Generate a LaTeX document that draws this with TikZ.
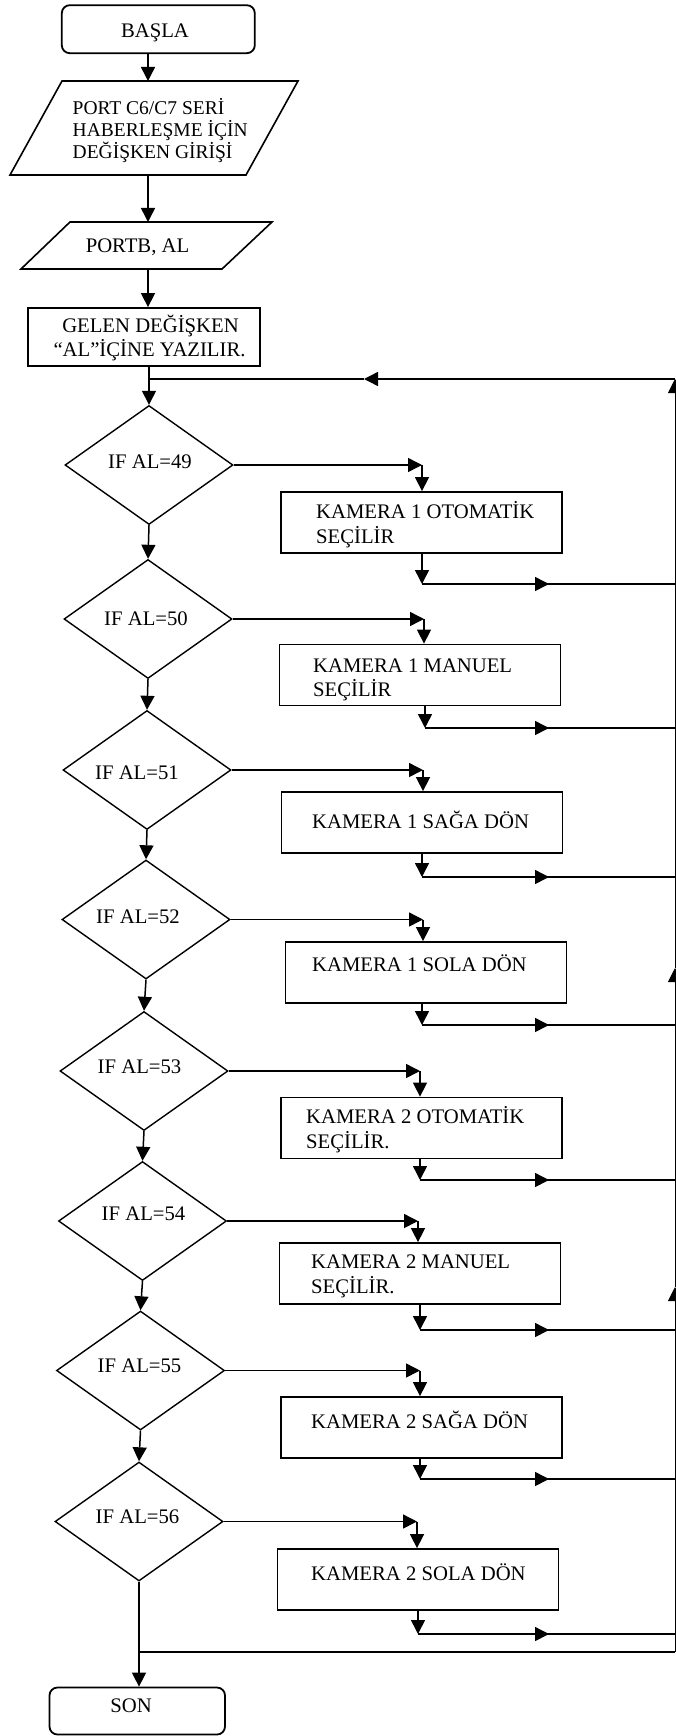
\documentclass[tikz,border=0pt]{standalone}
\usepackage{fontspec}
\setmainfont{Liberation Serif}
\usetikzlibrary{arrows.meta,shapes.geometric}
\tikzset{
  conn/.style={line width=1.5pt},
  arr/.style={conn,-{Triangle[length=14pt,width=14pt]}},
  edgearr/.style={line width=0.9pt,-{Triangle[length=14pt,width=14pt]}},
  termbox/.style={draw,line width=1.8pt,rounded corners=8pt,inner sep=0pt},
  ioshape/.style={draw,line width=1.6pt,line join=miter},
  procbox/.style={draw,line width=1.8pt,inner sep=0pt,minimum width=281pt,minimum height=61pt},
  decision/.style={draw,diamond,line width=1.4pt,inner sep=0pt,minimum width=168pt,minimum height=119pt},
  lbl/.style={inner sep=0pt,font=\fontsize{20.7}{25}\selectfont},
  lblsmall/.style={inner sep=0pt,font=\fontsize{19.5}{22}\selectfont},
}
\begin{document}
\begin{tikzpicture}[x=1pt,y=-1pt]
\useasboundingbox (0,0) rectangle (675,1736);

% start
\node[termbox,minimum width=193pt,minimum height=48pt] (start) at (158.3,29.2) {};
\node[lbl,anchor=base] (tstart) at (155,37.5) {BAŞLA};

% parallelogram 1
\draw[ioshape] (62,81) -- (298,81) -- (246,175) -- (10,175) -- cycle;
\coordinate (p1n) at (148,81);
\coordinate (p1s) at (148,175);
\node[lblsmall,anchor=base west] (tp1a) at (72.5,115) {PORT C6/C7 SERİ};
\node[lblsmall,anchor=base west] (tp1b) at (72.5,137) {HABERLEŞME İÇİN};
\node[lblsmall,anchor=base west] (tp1c) at (72.5,158.5) {DEĞİŞKEN GİRİŞİ};

% parallelogram 2
\draw[ioshape] (70,222) -- (272,222) -- (222,269) -- (21,269) -- cycle;
\coordinate (p2n) at (148,222);
\coordinate (p2s) at (148,269);
\node[lbl,anchor=base] (tp2) at (137.5,252) {PORTB, AL};

% gelen box
\node[draw,line width=1.8pt,inner sep=0pt,minimum width=232pt,minimum height=58pt] (gelen) at (144,337) {};
\node[lbl,anchor=base] (tg1) at (150.5,332) {GELEN DEĞİŞKEN};
\node[lbl,anchor=base] (tg2) at (149.5,356) {“AL”İÇİNE YAZILIR.};

% rows
\foreach \i/\cx/\cy/\ax/\bx/\by/\ox/\oy in {
1/149/465/422/421.5/522.5/422/584,
2/148/619/424/420/675/425/728,
3/147/770/423/422/822.5/422/877,
4/146/919.5/423/426/972.5/422/1025,
5/144/1071/420/421.5/1128/420/1180,
6/142.5/1221/418/420/1273.5/420/1330,
7/140.5/1370.5/420/421.5/1427.5/420/1479,
8/139/1521.5/417/418/1579.5/418/1634}{
  \node[decision] (d\i) at (\cx,\cy) {};
  \node[procbox] (b\i) at (\bx,\by) {};
  \coordinate (t\i) at (\ax,\cy);
  \coordinate (o\i) at (\ox,\oy);
  \coordinate (m\i) at (549,\oy);
  \coordinate (r\i) at (675,\oy);
  \draw[arr] (d\i.east) -- (t\i);
  \draw[arr] (t\i) -- (t\i |- b\i.north);
  \draw[arr] (b\i.south -| o\i) -- (o\i);
  \draw[conn] (o\i) -- (r\i);
  \draw[arr] (o\i) -- (m\i);
}

% diamond texts
\node[lbl,anchor=base] (td1) at (150,468) {IF AL=49};
\node[lbl,anchor=base] (td2) at (146,625) {IF AL=50};
\node[lbl,anchor=base] (td3) at (137,779) {IF AL=51};
\node[lbl,anchor=base] (td4) at (138,923) {IF AL=52};
\node[lbl,anchor=base] (td5) at (139.5,1073) {IF AL=53};
\node[lbl,anchor=base] (td6) at (143.5,1220) {IF AL=54};
\node[lbl,anchor=base] (td7) at (139.5,1372) {IF AL=55};
\node[lbl,anchor=base] (td8) at (137.5,1523) {IF AL=56};

% box texts
\node[lbl,anchor=base west] (tb1a) at (316,518) {KAMERA 1 OTOMATİK};
\node[lbl,anchor=base west] (tb1b) at (316,543) {SEÇİLİR};
\node[lbl,anchor=base west] (tb2a) at (313,672) {KAMERA 1 MANUEL};
\node[lbl,anchor=base west] (tb2b) at (313,696) {SEÇİLİR};
\node[lbl,anchor=base west] (tb3) at (312,828) {KAMERA 1 SAĞA DÖN};
\node[lbl,anchor=base west] (tb4) at (312,971) {KAMERA 1 SOLA DÖN};
\node[lbl,anchor=base west] (tb5a) at (306,1123) {KAMERA 2 OTOMATİK};
\node[lbl,anchor=base west] (tb5b) at (306,1148) {SEÇİLİR.};
\node[lbl,anchor=base west] (tb6a) at (311,1268) {KAMERA 2 MANUEL};
\node[lbl,anchor=base west] (tb6b) at (311,1293) {SEÇİLİR.};
\node[lbl,anchor=base west] (tb7) at (311,1428) {KAMERA 2 SAĞA DÖN};
\node[lbl,anchor=base west] (tb8) at (311,1580) {KAMERA 2 SOLA DÖN};

% son
\node[termbox,minimum width=175.5pt,minimum height=47pt] (son) at (137.25,1711) {};
\node[lbl,anchor=base] (tson) at (131,1712) {SON};

% main flow
\draw[arr] (start.south -| p1n) -- (p1n);
\draw[arr] (p1s) -- (p2n);
\draw[arr] (p2s) -- (gelen.north -| p2s);
\draw[arr] (gelen.south -| d1.north) -- (d1.north);
\foreach \i/\j in {1/2,2/3,3/4,4/5,5/6,6/7,7/8}{
  \draw[arr] (d\i.south) -- (d\j.north);
}
\draw[arr] (d8.south) -- (d8.south |- son.north);

% return path on the right edge
\coordinate (rtop) at (675,379);
\coordinate (rbot) at (675,1652);
\coordinate (rma) at (675,968);
\coordinate (rmb) at (675,1287);
\coordinate (retm) at (364,379);
\coordinate (bl) at (d8.south |- rbot);
\draw[edgearr] (rma) -- (rtop);
\draw[edgearr] (rmb) -- (rma);
\draw[edgearr] (rbot) -- (rmb);
\draw[arr] (rtop) -- (retm);
\draw[conn] (retm) -- (d1.north |- rtop);
\draw[conn] (bl) -- (rbot);
\end{tikzpicture}
\end{document}
